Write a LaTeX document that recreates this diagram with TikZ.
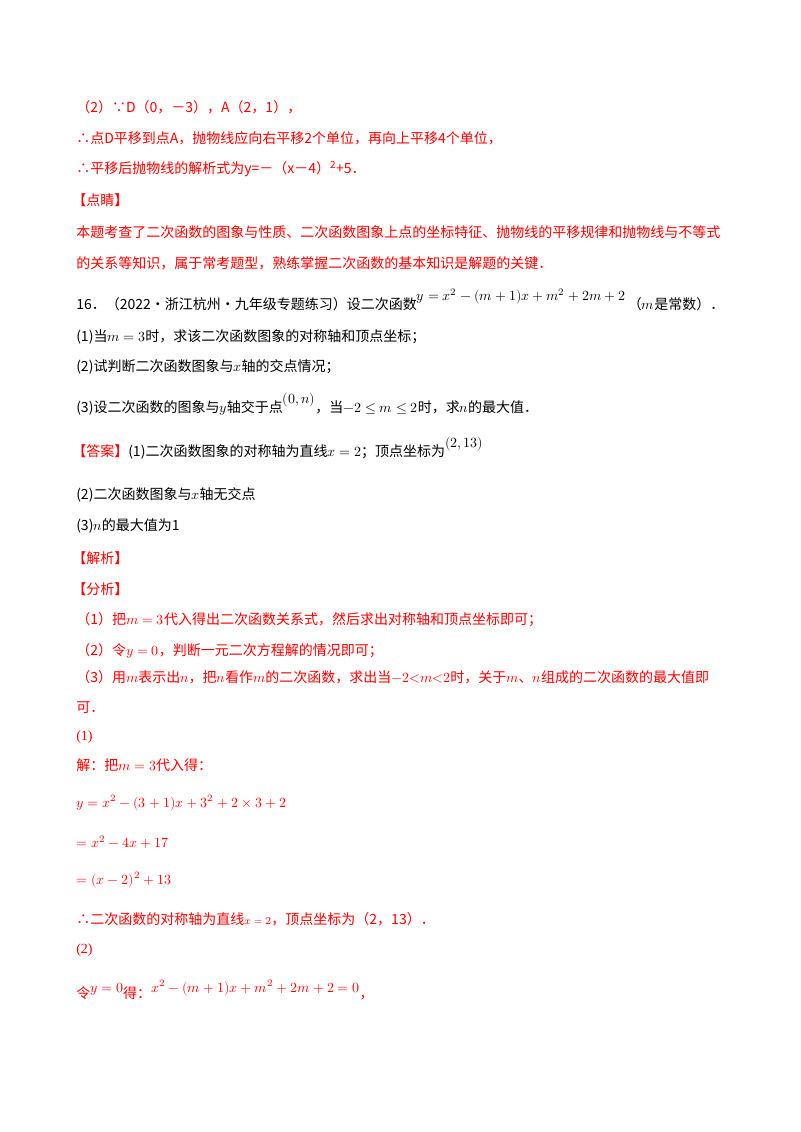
\documentclass[tikz,border=0pt]{standalone}
\usepackage{fontspec}
\newfontfamily\cjk{Noto Sans CJK SC}
\setmainfont{Liberation Serif}
\usepackage{unicode-math}
\definecolor{rd}{HTML}{FF0000}
\begin{document}
\begin{tikzpicture}[x=0.75pt,y=-0.75pt]
\tikzset{ln/.style={anchor=west,inner sep=0pt,font=\fontsize{10.5}{12}\selectfont},r/.style={ln,text=rd}}
\useasboundingbox[fill=white] (0,0) rectangle (800,1132);
\node[r] (l1) at (76,107) {\cjk（2）∵D（0，－3），A（2，1），};
\node[r] (l2) at (76,138) {\cjk ∴点D平移到点A，抛物线应向右平移2个单位，再向上平移4个单位，};
\node[r] (l3) at (76,169) {\cjk ∴平移后抛物线的解析式为y=－（x－4）\textsuperscript{2}+5．};
\node[r] (l4) at (72,200) {\cjk 【点睛】};
\node[r] (l5) at (76,232) {\cjk 本题考查了二次函数的图象与性质、二次函数图象上点的坐标特征、抛物线的平移规律和抛物线与不等式};
\node[r] (l6) at (76,263) {\cjk 的关系等知识，属于常考题型，熟练掌握二次函数的基本知识是解题的关键．};
\node[ln] (q) at (76,300) {\cjk 16．（2022·浙江杭州·九年级专题练习）设二次函数\raisebox{1.2ex}{$y=x^2-(m+1)x+m^2+2m+2$}\,（$m$是常数）．};
\node[ln] (q1) at (76,337) {\cjk (1)当$m=3$时，求该二次函数图象的对称轴和顶点坐标；};
\node[ln] (q2) at (76,367) {\cjk (2)试判断二次函数图象与$x$轴的交点情况；};
\node[ln] (q3) at (76,404) {\cjk (3)设二次函数的图象与$y$轴交于点\raisebox{1.2ex}{$(0,n)$}，当$-2\le m\le 2$时，求$n$的最大值．};
\node[ln] (a1) at (72,448) {\cjk \textcolor{rd}{【答案】}(1)二次函数图象的对称轴为直线$x=2$；顶点坐标为\raisebox{1.2ex}{$(2,13)$}};
\node[ln] (a2) at (76,495) {\cjk (2)二次函数图象与$x$轴无交点};
\node[ln] (a3) at (76,526) {\cjk (3)$n$的最大值为1};
\node[r] (j) at (72,558) {\cjk 【解析】};
\node[r] (f) at (72,589) {\cjk 【分析】};
\node[r] (f1) at (76,620) {\cjk （1）把$m=3$代入得出二次函数关系式，然后求出对称轴和顶点坐标即可；};
\node[r] (f2) at (76,651) {\cjk （2）令$y=0$，判断一元二次方程解的情况即可；};
\node[r] (f3) at (76,677) {\cjk （3）用$m$表示出$n$，把$n$看作$m$的二次函数，求出当$-2{<}m{<}2$时，关于$m$、$n$组成的二次函数的最大值即};
\node[r] (f4) at (76,708) {\cjk 可．};
\node[r] (s1) at (76,737) {(1)};
\node[r] (s2) at (76,765) {\cjk 解：把$m=3$代入得：};
\node[r] (e1) at (76,803) {$y=x^2-(3+1)x+3^2+2\times3+2$};
\node[r] (e2) at (76,842) {$=x^2-4x+17$};
\node[r] (e3) at (76,880) {$=(x-2)^2+13$};
\node[r] (c1) at (76,919) {\cjk ∴二次函数的对称轴为直线{\fontsize{8}{9}\selectfont$x=2$}，顶点坐标为（2，13）．};
\node[r] (s3) at (76,950) {(2)};
\node[r] (c2) at (76,990) {\cjk 令\raisebox{0.8ex}{$y=0$}得：\raisebox{0.8ex}{$x^2-(m+1)x+m^2+2m+2=0$}，};
\end{tikzpicture}
\end{document}
